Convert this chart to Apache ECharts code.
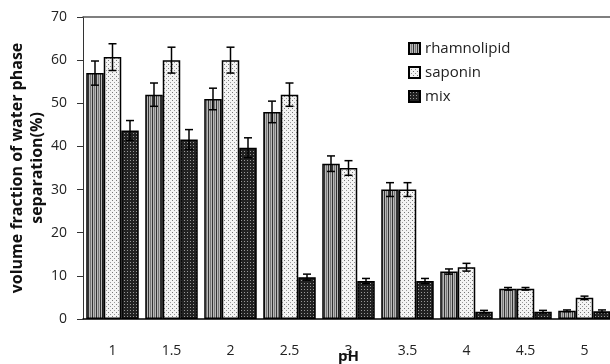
<!DOCTYPE html>
<html>
<head>
<meta charset="utf-8">
<script src="https://cdn.jsdelivr.net/npm/echarts@6/dist/echarts.min.js"></script>
<style>
html, body { margin: 0; padding: 0; background: #fff; }
#chart { width: 610px; height: 364px; }
</style>
</head>
<body>
<div id="chart"></div>
<script>
// pH values on the x axis
var phList = ['1', '1.5', '2', '2.5', '3', '3.5', '4', '4.5', '5'];
// volume fraction (%) and error bars
var rhamnolipid = [57, 52, 51, 48, 36, 30, 11, 7, 1.9];
var rhamnolipidErr = [2.8, 2.7, 2.5, 2.5, 1.8, 1.6, 0.6, 0.3, 0.2];
var saponin = [60.7, 60, 60, 52, 35, 30, 12, 7, 4.9];
var saponinErr = [3.1, 3, 3, 2.7, 1.7, 1.6, 0.9, 0.3, 0.4];
var mix = [43.7, 41.6, 39.7, 9.7, 8.8, 8.8, 1.7, 1.7, 1.8];
var mixErr = [2.3, 2.3, 2.3, 0.7, 0.6, 0.6, 0.3, 0.3, 0.3];

var barW = 17.5;
var font = 'Open Sans';

// small canvas tiles used as fill patterns
function makeTile(w, h, bg, dots) {
    var c = document.createElement('canvas');
    c.width = w; c.height = h;
    var ctx = c.getContext('2d');
    ctx.fillStyle = bg;
    ctx.fillRect(0, 0, w, h);
    dots.forEach(function (d) {
        ctx.fillStyle = d[2];
        ctx.fillRect(d[0], d[1], d[3] || 1, d[4] || 1);
    });
    return { image: c, repeat: 'repeat' };
}
var stripes = makeTile(4, 4, '#b8b8b8', [[0, 0, '#333', 1, 4], [2, 0, '#777', 1, 4]]);
var dotted = makeTile(4, 4, '#f4f4f4', [[0, 0, '#777'], [2, 2, '#999']]);
var dark = makeTile(3, 3, '#222', [[1, 1, '#999']]);

function errData(vals, errs) {
    return vals.map(function (v, i) { return [i, v - errs[i], v + errs[i]]; });
}

function errSeries(vals, errs, k) {
    return {
        type: 'custom',
        z: 10,
        data: errData(vals, errs),
        renderItem: function (params, api) {
            var lo = api.coord([api.value(0), api.value(1)]);
            var hi = api.coord([api.value(0), api.value(2)]);
            var x = lo[0] + (k - 1) * barW;
            var cap = 4;
            var st = { stroke: '#000', lineWidth: 1.5 };
            return {
                type: 'group',
                children: [
                    { type: 'line', shape: { x1: x, y1: lo[1], x2: x, y2: hi[1] }, style: st },
                    { type: 'line', shape: { x1: x - cap, y1: lo[1], x2: x + cap, y2: lo[1] }, style: st },
                    { type: 'line', shape: { x1: x - cap, y1: hi[1], x2: x + cap, y2: hi[1] }, style: st }
                ]
            };
        }
    };
}

function barSeries(name, vals, fill) {
    return {
        name: name,
        type: 'bar',
        barWidth: barW,
        barGap: '0%',
        data: vals,
        itemStyle: { color: fill, borderColor: '#000', borderWidth: 1.5 }
    };
}

var myChart = echarts.init(document.getElementById('chart'));
var option = {
    animation: false,
    grid: { left: 83, top: 17, width: 531, bottom: 45, outerBoundsMode: 'none', containLabel: false },
    legend: {
        data: ['rhamnolipid', 'saponin', 'mix'],
        orient: 'vertical',
        left: 403,
        top: 36,
        itemWidth: 11,
        itemHeight: 11,
        itemGap: 9,
        icon: 'rect',
        textStyle: { fontFamily: font, fontSize: 15, color: '#222' }
    },
    xAxis: [{
        type: 'category',
        data: phList,
        name: 'pH',
        nameLocation: 'middle',
        nameGap: 30,
        nameMoveOverlap: false,
        nameTextStyle: { fontFamily: font, fontWeight: 'bold', fontSize: 15, color: '#111' },
        axisLine: { lineStyle: { color: '#000', width: 1.5 } },
        axisTick: { show: false },
        axisLabel: { fontFamily: font, fontSize: 14, color: '#222', margin: 25 }
    }, {
        type: 'category',
        data: phList,
        position: 'top',
        axisLine: { lineStyle: { color: '#555', width: 1.5 } },
        axisTick: { show: false },
        axisLabel: { show: false }
    }],
    yAxis: {
        type: 'value',
        min: 0,
        max: 70,
        interval: 10,
        name: 'volume fraction of water phase\nseparation(%)',
        nameLocation: 'middle',
        nameGap: 36,
        nameMoveOverlap: false,
        nameTextStyle: { fontFamily: font, fontWeight: 'bold', fontSize: 16, color: '#111', lineHeight: 20 },
        axisLine: { show: true, lineStyle: { color: '#333', width: 1 } },
        axisTick: { show: true, length: 6, lineStyle: { color: '#333' } },
        splitLine: { show: false },
        axisLabel: { fontFamily: font, fontSize: 14, color: '#222', margin: 16 }
    },
    series: [
        barSeries('rhamnolipid', rhamnolipid, stripes),
        barSeries('saponin', saponin, dotted),
        barSeries('mix', mix, dark),
        errSeries(rhamnolipid, rhamnolipidErr, 0),
        errSeries(saponin, saponinErr, 1),
        errSeries(mix, mixErr, 2)
    ]
};
myChart.setOption(option);
window.addEventListener('resize', function () {
    myChart.resize();
});
</script>
</body>
</html>
